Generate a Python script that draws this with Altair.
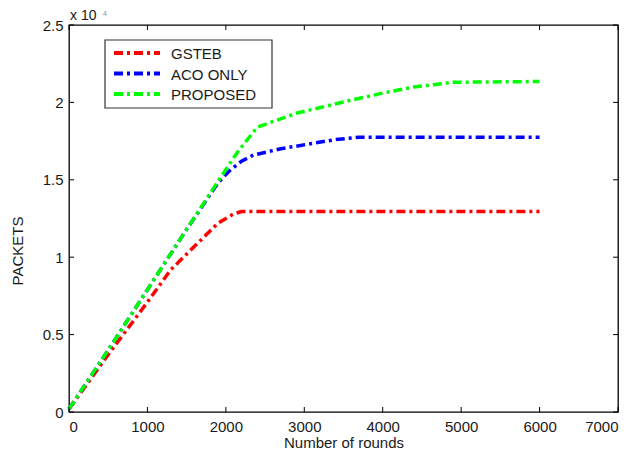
import altair as alt
import pandas as pd

# ---- data (values in units of 10^4 packets) ----
gsteb_x = [0, 500, 1000, 1300, 1600, 1900, 2100, 2200, 3000, 4000, 5000, 6000]
gsteb_y = [0.02, 0.37, 0.71, 0.92, 1.07, 1.22, 1.28, 1.295, 1.295, 1.295, 1.295, 1.295]

aco_x = [0, 500, 1000, 1500, 1900, 2050, 2200, 2350, 2700, 3100, 3400, 3700, 6000]
aco_y = [0.02, 0.40, 0.79, 1.18, 1.48, 1.56, 1.62, 1.66, 1.70, 1.735, 1.76, 1.775, 1.775]

prop_x = [0, 500, 1000, 1500, 1900, 2150, 2400, 2900, 3600, 4000, 4400, 4900, 6000]
prop_y = [0.02, 0.40, 0.79, 1.18, 1.49, 1.68, 1.84, 1.93, 2.015, 2.06, 2.10, 2.13, 2.135]

series_names = ["GSTEB", "ACO ONLY", "PROPOSED"]
series_colors = ["#FF0000", "#0000FF", "#00FF00"]

x_ticks = [0, 1000, 2000, 3000, 4000, 5000, 6000, 7000]
y_ticks = [0, 0.5, 1, 1.5, 2, 2.5]

rows = []
for name, xs, ys in zip(series_names, [gsteb_x, aco_x, prop_x], [gsteb_y, aco_y, prop_y]):
    for i, (a, b) in enumerate(zip(xs, ys)):
        rows.append({"series": name, "rounds": a, "packets": b, "order": i})
df = pd.DataFrame(rows)
xt = pd.DataFrame({"t": x_ticks})
yt = pd.DataFrame({"t": y_ticks})

W, H = 549, 387
FONT = "Liberation Sans"
DASH = [9, 4, 3, 4]
TXT = "#1a1a1a"

xscale = alt.Scale(domain=[0, 7000], nice=False)
yscale = alt.Scale(domain=[0, 2.5], nice=False)

lines = alt.Chart(df).mark_line(strokeWidth=3.5, strokeDash=DASH).encode(
    x=alt.X("rounds:Q", scale=xscale,
            axis=alt.Axis(values=x_ticks, title="Number of rounds", ticks=False, domain=False,
                          grid=False, labelPadding=7, titlePadding=1, format="d")),
    y=alt.Y("packets:Q", scale=yscale,
            axis=alt.Axis(values=y_ticks, title="PACKETS", ticks=False, domain=False,
                          grid=False, labelPadding=6, format=".1~f",
                          titleX=-44, titleY=H / 2 + 32)),
    color=alt.Color("series:N", scale=alt.Scale(domain=series_names, range=series_colors),
                    legend=None),
    order="order:Q",
)

tick_style = dict(color="black", strokeWidth=1)
xb = alt.Chart(xt).mark_rule(**tick_style).encode(
    x=alt.X("t:Q", scale=xscale), y=alt.value(H), y2=alt.value(H - 5))
xtp = alt.Chart(xt).mark_rule(**tick_style).encode(
    x=alt.X("t:Q", scale=xscale), y=alt.value(0), y2=alt.value(5))
yl = alt.Chart(yt).mark_rule(**tick_style).encode(
    y=alt.Y("t:Q", scale=yscale), x=alt.value(0), x2=alt.value(5))
yr = alt.Chart(yt).mark_rule(**tick_style).encode(
    y=alt.Y("t:Q", scale=yscale), x=alt.value(W), x2=alt.value(W - 5))

# ---- legend box (manual, MATLAB style) ----
box_df = pd.DataFrame({"k": [0]})
legend_box = alt.Chart(box_df).mark_rect(fill="white", stroke="#333", strokeWidth=1.2).encode(
    x=alt.value(36), x2=alt.value(203), y=alt.value(15), y2=alt.value(83))
legend_layers = [legend_box]
for i, (name, col) in enumerate(zip(series_names, series_colors)):
    yy = 28 + i * 20.5
    d = pd.DataFrame({"series": [name]})
    legend_layers.append(alt.Chart(d).mark_rule(color=col, strokeWidth=4, strokeDash=DASH).encode(
        x=alt.value(45), x2=alt.value(91), y=alt.value(yy)))
    legend_layers.append(alt.Chart(d).mark_text(font=FONT, fontSize=15, align="left",
                                                baseline="middle", color=TXT).encode(
        text="series:N", x=alt.value(102), y=alt.value(yy + 1)))

exp_df = pd.DataFrame({"txt": ["x 10"]})
exp_txt = alt.Chart(exp_df).mark_text(font=FONT, fontSize=14, align="left", baseline="alphabetic",
                                      color=TXT).encode(
    text="txt:N", x=alt.value(1), y=alt.value(-5))
sup_df = pd.DataFrame({"txt": ["4"]})
sup_txt = alt.Chart(sup_df).mark_text(font=FONT, fontSize=7, align="left", baseline="alphabetic",
                                      color="#888").encode(
    text="txt:N", x=alt.value(34), y=alt.value(-9))

chart = alt.layer(lines, xb, xtp, yl, yr, *legend_layers, exp_txt, sup_txt).properties(
    width=W, height=H,
    autosize=alt.AutoSizeParams(type="none"),
    padding={"left": 61, "top": 17, "right": 9, "bottom": 38},
).configure_view(stroke="black", strokeWidth=1.3).configure_axis(
    labelFont=FONT, labelFontSize=15, labelColor=TXT,
    titleFont=FONT, titleFontSize=15, titleColor=TXT, titleFontWeight="normal",
)

chart.save("out.html", embed_options={"renderer": "svg", "actions": False})
